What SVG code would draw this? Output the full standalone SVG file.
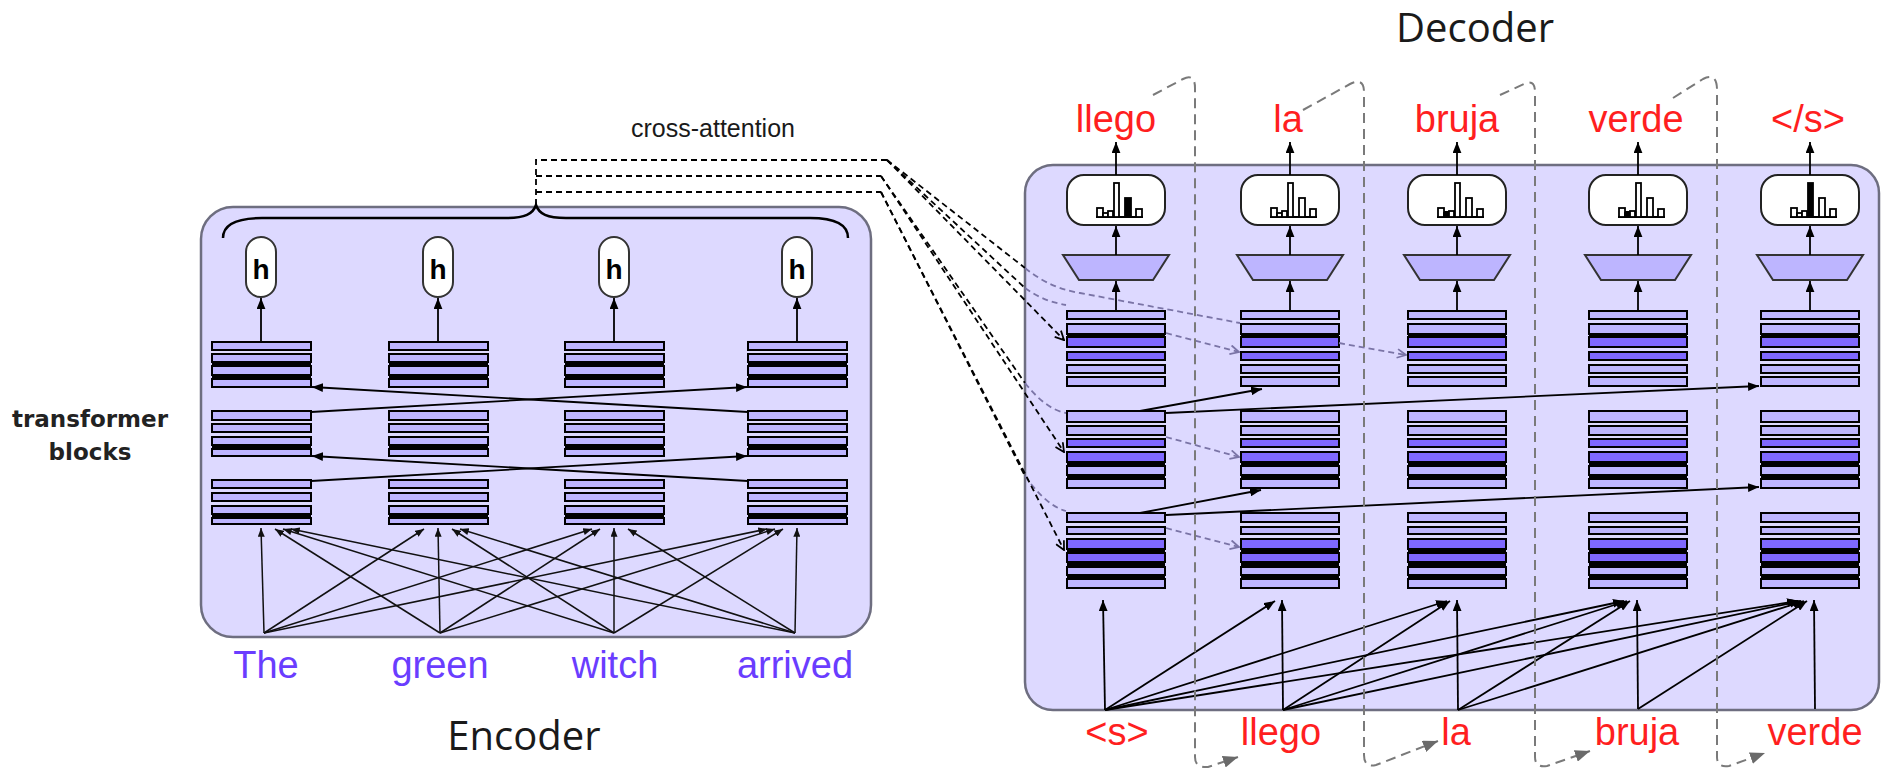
<svg xmlns="http://www.w3.org/2000/svg" width="1881" height="771" viewBox="0 0 1881 771">
<style>
.box{fill:#c6c0ff;fill-opacity:0.6;stroke:#6e6e80;stroke-width:2.5}
.L{fill:#bdb5ff;stroke:#000;stroke-width:2}
.D{fill:#7f68ff;stroke:#000;stroke-width:2}
.k{fill:#000}
.sm{fill:#fff;stroke:#222;stroke-width:2}
.tz{fill:#bdb5ff;stroke:#333;stroke-width:2}
.hb{fill:#fff;stroke:#000;stroke-width:1.8}
.hp{fill:#fff;stroke:#333;stroke-width:2}
.ar{stroke:#000;stroke-width:1.8;fill:none;marker-end:url(#ah)}
.ai{stroke:#111;stroke-width:1.5;fill:none;marker-end:url(#ahs)}
.xd{stroke:#000;stroke-width:1.8;fill:none;stroke-dasharray:6 4}
.xda{stroke:#000;stroke-width:1.8;fill:none;stroke-dasharray:6 4;marker-end:url(#av)}
.xg{stroke:#7a74a6;stroke-width:1.8;fill:none;stroke-dasharray:6 4}
.xga{stroke:#7a74a6;stroke-width:1.8;fill:none;stroke-dasharray:6 4;marker-end:url(#avg)}
.fb{stroke:#7a7a7a;stroke-width:2;fill:none;stroke-dasharray:10 6}
.fba{stroke:#7a7a7a;stroke-width:2;fill:none;stroke-dasharray:10 6;marker-end:url(#ag)}
.br{stroke:#000;stroke-width:2.5;fill:none}
.w{font-family:"Liberation Sans",Arial,sans-serif;font-size:38px;text-anchor:middle}
.en{fill:#6a3dff}
.es{fill:#ff1f1f}
.ttl{font-family:"Open Sans","Noto Sans",sans-serif;font-size:40px;fill:#1a1a1a;text-anchor:middle}
.hl{font-family:"Liberation Sans",Arial,sans-serif;font-size:28px;font-weight:bold;fill:#000;text-anchor:middle}
</style>
<defs>
<marker id="ah" viewBox="0 0 10 8" refX="10" refY="4" markerWidth="11" markerHeight="9" markerUnits="userSpaceOnUse" orient="auto"><path d="M0,0 L10,4 L0,8 z" fill="#000"/></marker>
<marker id="ahs" viewBox="0 0 10 8" refX="10" refY="4" markerWidth="9" markerHeight="7" markerUnits="userSpaceOnUse" orient="auto"><path d="M0,0 L10,4 L0,8 z" fill="#111"/></marker>
<marker id="av" viewBox="0 0 10 10" refX="9" refY="5" markerWidth="11" markerHeight="11" markerUnits="userSpaceOnUse" orient="auto"><path d="M1,1 L9,5 L1,9" fill="none" stroke="#000" stroke-width="1.6"/></marker>
<marker id="avg" viewBox="0 0 10 10" refX="9" refY="5" markerWidth="11" markerHeight="11" markerUnits="userSpaceOnUse" orient="auto"><path d="M1,1 L9,5 L1,9" fill="none" stroke="#7a74a6" stroke-width="1.6"/></marker>
<marker id="ag" viewBox="0 0 10 8" refX="10" refY="4" markerWidth="15" markerHeight="12" markerUnits="userSpaceOnUse" orient="auto"><path d="M0,0 L10,4 L0,8 z" fill="#6a6a6a"/></marker>
<g id="dT"><rect class="k" x="0" y="22" width="98" height="5"/><rect class="L" x="0" y="0" width="98" height="8"/><rect class="L" x="0" y="13" width="98" height="10"/><rect class="D" x="0" y="26" width="98" height="10"/><rect class="D" x="0" y="41" width="98" height="8"/><rect class="L" x="0" y="54" width="98" height="8"/><rect class="L" x="0" y="66" width="98" height="9"/></g>
<g id="dM"><rect class="k" x="0" y="50" width="98" height="6"/><rect class="k" x="0" y="63" width="98" height="6"/><rect class="L" x="0" y="0" width="98" height="11"/><rect class="L" x="0" y="15" width="98" height="9"/><rect class="D" x="0" y="28" width="98" height="8"/><rect class="D" x="0" y="41" width="98" height="10"/><rect class="L" x="0" y="55" width="98" height="9"/><rect class="L" x="0" y="68" width="98" height="9"/></g>
<g id="dB"><rect class="k" x="0" y="35" width="98" height="6"/><rect class="k" x="0" y="48" width="98" height="7"/><rect class="k" x="0" y="61" width="98" height="6"/><rect class="L" x="0" y="0" width="98" height="9"/><rect class="L" x="0" y="14" width="98" height="7"/><rect class="D" x="0" y="26" width="98" height="10"/><rect class="D" x="0" y="40" width="98" height="9"/><rect class="L" x="0" y="54" width="98" height="8"/><rect class="L" x="0" y="66" width="98" height="9"/></g>
<g id="eT"><rect class="k" x="0" y="19" width="99" height="6"/><rect class="k" x="0" y="32" width="99" height="6"/><rect class="L" x="0" y="0" width="99" height="8"/><rect class="L" x="0" y="12" width="99" height="8"/><rect class="L" x="0" y="24" width="99" height="9"/><rect class="L" x="0" y="37" width="99" height="8"/></g>
<g id="eM"><rect class="k" x="0" y="33" width="99" height="6"/><rect class="L" x="0" y="0" width="99" height="9"/><rect class="L" x="0" y="13" width="99" height="8"/><rect class="L" x="0" y="26" width="99" height="8"/><rect class="L" x="0" y="38" width="99" height="7"/></g>
<g id="eB"><rect class="k" x="0" y="33" width="99" height="6"/><rect class="L" x="0" y="0" width="99" height="8"/><rect class="L" x="0" y="13" width="99" height="8"/><rect class="L" x="0" y="26" width="99" height="8"/><rect class="L" x="0" y="38" width="99" height="6"/></g>
<g id="hist"><path d="M-20,0 H27" stroke="#000" stroke-width="2"/><rect class="hb" x="-19" y="-9" width="6" height="9"/><rect class="hb" x="-13" y="-4" width="5" height="4"/><rect class="hb" x="-8" y="-6" width="5" height="6"/><rect class="hb" x="-2" y="-34" width="5" height="34"/><rect class="hb" x="9" y="-19" width="6" height="19"/><rect class="hb" x="20" y="-8" width="6" height="8"/></g>
</defs>

<g id="encoder-box"><rect class="box" x="201" y="207" width="670" height="430" rx="32"/></g>
<g id="decoder-box"><rect class="box" x="1025" y="165" width="854" height="545" rx="28"/></g>

<g id="encoder-brace"><path class="br" d="M223,238 C223,224 238,218 262,218 L506,218 C525,218 533,214 536,205 C539,214 547,218 566,218 L810,218 C834,218 848,224 848,238"/></g>

<g id="enc-h1"><rect class="hp" x="246" y="237" width="30" height="60" rx="15"/><text class="hl" x="261" y="279">h</text></g>
<g id="enc-h2"><rect class="hp" x="423" y="237" width="30" height="60" rx="15"/><text class="hl" x="438" y="279">h</text></g>
<g id="enc-h3"><rect class="hp" x="599" y="237" width="30" height="60" rx="15"/><text class="hl" x="614" y="279">h</text></g>
<g id="enc-h4"><rect class="hp" x="782" y="237" width="30" height="60" rx="15"/><text class="hl" x="797" y="279">h</text></g>

<g id="enc-c1-top"><use href="#eT" x="212" y="342"/></g>
<g id="enc-c2-top"><use href="#eT" x="389" y="342"/></g>
<g id="enc-c3-top"><use href="#eT" x="565" y="342"/></g>
<g id="enc-c4-top"><use href="#eT" x="748" y="342"/></g>
<g id="enc-c1-mid"><use href="#eM" x="212" y="411"/></g>
<g id="enc-c2-mid"><use href="#eM" x="389" y="411"/></g>
<g id="enc-c3-mid"><use href="#eM" x="565" y="411"/></g>
<g id="enc-c4-mid"><use href="#eM" x="748" y="411"/></g>
<g id="enc-c1-bot"><use href="#eB" x="212" y="480"/></g>
<g id="enc-c2-bot"><use href="#eB" x="389" y="480"/></g>
<g id="enc-c3-bot"><use href="#eB" x="565" y="480"/></g>
<g id="enc-c4-bot"><use href="#eB" x="748" y="480"/></g>

<g id="dec-c1-softmax"><rect class="sm" x="1067" y="175" width="98" height="50" rx="17"/><use href="#hist" x="1116" y="217"/><rect class="k" x="1125" y="198" width="6" height="19"/></g>
<g id="dec-c2-softmax"><rect class="sm" x="1241" y="175" width="98" height="50" rx="17"/><use href="#hist" x="1290" y="217"/></g>
<g id="dec-c3-softmax"><rect class="sm" x="1408" y="175" width="98" height="50" rx="17"/><use href="#hist" x="1457" y="217"/><rect class="k" x="1444" y="211" width="5" height="6"/></g>
<g id="dec-c4-softmax"><rect class="sm" x="1589" y="175" width="98" height="50" rx="17"/><use href="#hist" x="1638" y="217"/><rect class="k" x="1625" y="211" width="5" height="6"/></g>
<g id="dec-c5-softmax"><rect class="sm" x="1761" y="175" width="98" height="50" rx="17"/><use href="#hist" x="1810" y="217"/><rect class="k" x="1808" y="183" width="5" height="34"/></g>

<g id="dec-c1-linear"><path class="tz" d="M1063,255 L1169,255 L1153,280 L1079,280 Z"/></g>
<g id="dec-c2-linear"><path class="tz" d="M1237,255 L1343,255 L1327,280 L1253,280 Z"/></g>
<g id="dec-c3-linear"><path class="tz" d="M1404,255 L1510,255 L1494,280 L1420,280 Z"/></g>
<g id="dec-c4-linear"><path class="tz" d="M1585,255 L1691,255 L1675,280 L1601,280 Z"/></g>
<g id="dec-c5-linear"><path class="tz" d="M1757,255 L1863,255 L1847,280 L1773,280 Z"/></g>

<g id="dec-c1-top"><use href="#dT" x="1067" y="311"/></g>
<g id="dec-c2-top"><use href="#dT" x="1241" y="311"/></g>
<g id="dec-c3-top"><use href="#dT" x="1408" y="311"/></g>
<g id="dec-c4-top"><use href="#dT" x="1589" y="311"/></g>
<g id="dec-c5-top"><use href="#dT" x="1761" y="311"/></g>
<g id="dec-c1-mid"><use href="#dM" x="1067" y="411"/></g>
<g id="dec-c2-mid"><use href="#dM" x="1241" y="411"/></g>
<g id="dec-c3-mid"><use href="#dM" x="1408" y="411"/></g>
<g id="dec-c4-mid"><use href="#dM" x="1589" y="411"/></g>
<g id="dec-c5-mid"><use href="#dM" x="1761" y="411"/></g>
<g id="dec-c1-bot"><use href="#dB" x="1067" y="513"/></g>
<g id="dec-c2-bot"><use href="#dB" x="1241" y="513"/></g>
<g id="dec-c3-bot"><use href="#dB" x="1408" y="513"/></g>
<g id="dec-c4-bot"><use href="#dB" x="1589" y="513"/></g>
<g id="dec-c5-bot"><use href="#dB" x="1761" y="513"/></g>

<g id="connectors">
<!-- encoder: stack to h -->
<path class="ar" d="M261,342 V298"/><path class="ar" d="M438,342 V298"/><path class="ar" d="M614,342 V298"/><path class="ar" d="M797,342 V298"/>
<!-- encoder cross arrows -->
<path class="ar" d="M311,412 L747,387"/><path class="ar" d="M748,412 L312,387"/>
<path class="ar" d="M311,481 L747,456"/><path class="ar" d="M748,481 L312,456"/>
<!-- encoder inputs -->
<path class="ai" d="M264,633 L261,528"/><path class="ai" d="M264,633 L424,529"/><path class="ai" d="M264,633 L592,529"/><path class="ai" d="M264,633 L767,529"/>
<path class="ai" d="M440,633 L275,529"/><path class="ai" d="M440,633 L438,528"/><path class="ai" d="M440,633 L600,529"/><path class="ai" d="M440,633 L775,529"/>
<path class="ai" d="M614,633 L283,529"/><path class="ai" d="M614,633 L452,529"/><path class="ai" d="M614,633 L614,528"/><path class="ai" d="M614,633 L783,529"/>
<path class="ai" d="M795,633 L291,529"/><path class="ai" d="M795,633 L460,529"/><path class="ai" d="M795,633 L628,529"/><path class="ai" d="M795,633 L797,528"/>
<!-- cross-attention bundle -->
<path class="xd" d="M536,205 V160 H887"/><path class="xd" d="M536,176 H881"/><path class="xd" d="M536,192 H881"/>
<path class="xd" d="M887,160 L1025,268"/><path class="xg" d="M1025,268 C1045,284 1062,290 1080,293 L1240,323"/><path class="xga" d="M1339,343 L1406,355"/>
<path class="xd" d="M887,160 L1025,288"/><path class="xg" d="M1025,288 C1040,299 1054,303 1066,305"/><path class="xga" d="M1166,333 L1239,352"/>
<path class="xda" d="M887,160 L1064,340"/>
<path class="xd" d="M881,176 L1025,383"/><path class="xg" d="M1025,383 C1040,402 1054,411 1066,413"/><path class="xga" d="M1166,437 L1239,457"/>
<path class="xda" d="M881,176 L1064,452"/>
<path class="xd" d="M881,192 L1025,476"/><path class="xg" d="M1025,476 C1040,497 1054,508 1066,511"/><path class="xga" d="M1166,528 L1239,547"/>
<path class="xda" d="M881,192 L1064,550"/>
<!-- decoder vertical flow -->
<path class="ar" d="M1116,311 V281"/><path class="ar" d="M1116,255 V226"/><path class="ar" d="M1116,175 V142"/>
<path class="ar" d="M1290,311 V281"/><path class="ar" d="M1290,255 V226"/><path class="ar" d="M1290,175 V142"/>
<path class="ar" d="M1457,311 V281"/><path class="ar" d="M1457,255 V226"/><path class="ar" d="M1457,175 V142"/>
<path class="ar" d="M1638,311 V281"/><path class="ar" d="M1638,255 V226"/><path class="ar" d="M1638,175 V142"/>
<path class="ar" d="M1810,311 V281"/><path class="ar" d="M1810,255 V226"/><path class="ar" d="M1810,175 V142"/>
<!-- decoder cross arrows -->
<path class="ar" d="M1140,411 L1262,389"/><path class="ar" d="M1166,413 L1759,386"/>
<path class="ar" d="M1140,513 L1261,490"/><path class="ar" d="M1166,515 L1759,487"/>
<!-- decoder inputs -->
<path class="ar" d="M1105,710 L1103,600"/>
<path class="ar" d="M1105,710 L1275,601"/><path class="ar" d="M1283,710 L1282,600"/>
<path class="ar" d="M1105,710 L1447,601"/><path class="ar" d="M1283,710 L1450,601"/><path class="ar" d="M1458,710 L1457,600"/>
<path class="ar" d="M1105,710 L1624,601"/><path class="ar" d="M1283,710 L1627,601"/><path class="ar" d="M1458,710 L1630,601"/><path class="ar" d="M1638,709 L1637,600"/>
<path class="ar" d="M1105,710 L1798,601"/><path class="ar" d="M1283,710 L1801,601"/><path class="ar" d="M1458,710 L1804,601"/><path class="ar" d="M1638,709 L1807,601"/><path class="ar" d="M1815,709 L1814,600"/>
<!-- autoregressive feedback -->
<path class="fba" d="M1153,95 L1183,79 Q1195,73 1195,88 L1195,757 Q1195,768 1208,767 L1238,757"/>
<path class="fba" d="M1303,110 L1350,84 Q1364,77 1364,92 L1364,755 Q1364,768 1376,765 L1438,741"/>
<path class="fba" d="M1500,95 L1524,84 Q1535,79 1535,92 L1535,757 Q1535,768 1547,766 L1590,751"/>
<path class="fba" d="M1673,98 L1703,79 Q1717,72 1717,90 L1717,757 Q1717,768 1729,766 L1765,753"/>
</g>

<g id="labels">
<text class="ttl" x="1475" y="42">Decoder</text>
<text class="ttl" x="524" y="750">Encoder</text>
<text x="713" y="137" font-family="Liberation Sans, Arial, sans-serif" font-size="25" fill="#1a1a1a" text-anchor="middle">cross-attention</text>
<text font-family="DejaVu Sans, sans-serif" font-size="23" font-weight="bold" fill="#222" text-anchor="middle"><tspan x="90" y="427">transformer</tspan><tspan x="90" y="460">blocks</tspan></text>
<text class="w en" x="266" y="678">The</text>
<text class="w en" x="440" y="678">green</text>
<text class="w en" x="615" y="678">witch</text>
<text class="w en" x="795" y="678">arrived</text>
<text class="w es" x="1116" y="132">llego</text>
<text class="w es" x="1288" y="132">la</text>
<text class="w es" x="1457" y="132">bruja</text>
<text class="w es" x="1636" y="132">verde</text>
<text class="w es" x="1808" y="132">&lt;/s&gt;</text>
<text class="w es" x="1117" y="745">&lt;s&gt;</text>
<text class="w es" x="1281" y="745">llego</text>
<text class="w es" x="1456" y="745">la</text>
<text class="w es" x="1637" y="745">bruja</text>
<text class="w es" x="1815" y="745">verde</text>
</g>
</svg>
